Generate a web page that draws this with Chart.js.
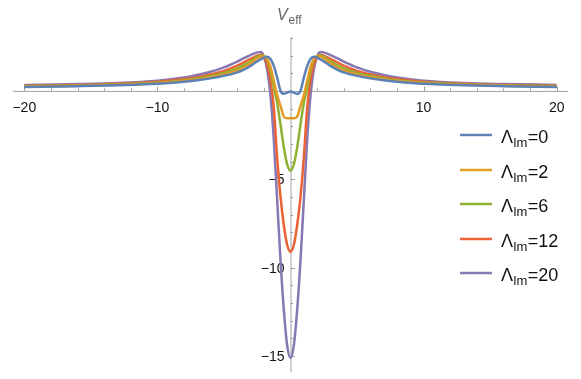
<!DOCTYPE html>
<html lang="en">
<head>
    <meta charset="UTF-8">
    <title>Veff</title>
    <style>
        body { margin: 0; background: #fff; }
        #wrap { width: 581px; height: 379px; }
    </style>
</head>
<body>
    <div id="wrap"><canvas id="myChart" width="581" height="379"></canvas></div>

    <script src="https://cdnjs.cloudflare.com/ajax/libs/Chart.js/4.4.1/chart.umd.min.js"></script>
    <script type="text/javascript">
        // x positions (symmetric about 0)
        const xs = [-20, -16, -13, -10, -8, -7, -6, -5, -4, -3.5, -3, -2.5, -2.25, -2, -1.75, -1.5, -1.25, -1, -0.75, -0.5, -0.25,
                    0, 0.25, 0.5, 0.75, 1, 1.25, 1.5, 1.75, 2, 2.25, 2.5, 3, 3.5, 4, 5, 6, 7, 8, 10, 13, 16, 20];

        // values, one array per curve
        const lam0 = [0.22, 0.27, 0.32, 0.40, 0.52, 0.60, 0.71, 0.85, 1.05, 1.21, 1.42, 1.67, 1.78, 1.88, 1.93, 1.80, 1.40, 0.75, 0.00, -0.16, -0.10,
                      -0.03, -0.10, -0.16, 0.00, 0.75, 1.40, 1.80, 1.93, 1.88, 1.78, 1.67, 1.42, 1.21, 1.05, 0.85, 0.71, 0.60, 0.52, 0.40, 0.32, 0.27, 0.22];
        const lam2 = [0.24, 0.29, 0.35, 0.44, 0.57, 0.65, 0.77, 0.93, 1.16, 1.34, 1.57, 1.85, 1.93, 1.95, 1.80, 1.35, 0.55, -0.25, -0.85, -1.45, -1.55,
                      -1.55, -1.55, -1.45, -0.85, -0.25, 0.55, 1.35, 1.80, 1.95, 1.93, 1.85, 1.57, 1.34, 1.16, 0.93, 0.77, 0.65, 0.57, 0.44, 0.35, 0.29, 0.24];
        const lam6 = [0.26, 0.31, 0.37, 0.47, 0.61, 0.71, 0.84, 1.02, 1.28, 1.46, 1.68, 1.92, 2.00, 1.98, 1.75, 1.15, 0.20, -0.70, -1.90, -3.20, -4.15,
                      -4.50, -4.15, -3.20, -1.90, -0.70, 0.20, 1.15, 1.75, 1.98, 2.00, 1.92, 1.68, 1.46, 1.28, 1.02, 0.84, 0.71, 0.61, 0.47, 0.37, 0.31, 0.26];
        const lam12 = [0.29, 0.33, 0.40, 0.52, 0.67, 0.78, 0.93, 1.13, 1.43, 1.62, 1.82, 2.00, 2.05, 1.95, 1.50, 0.60, -1.00, -3.80, -6.00, -7.60, -8.70,
                       -9.10, -8.70, -7.60, -6.00, -3.80, -1.00, 0.60, 1.50, 1.95, 2.05, 2.00, 1.82, 1.62, 1.43, 1.13, 0.93, 0.78, 0.67, 0.52, 0.40, 0.33, 0.29];
        const lam20 = [0.34, 0.39, 0.45, 0.58, 0.76, 0.90, 1.08, 1.33, 1.66, 1.85, 2.03, 2.18, 2.20, 1.95, 1.20, -0.30, -2.80, -6.20, -9.60, -12.40, -14.40,
                       -15.10, -14.40, -12.40, -9.60, -6.20, -2.80, -0.30, 1.20, 1.95, 2.20, 2.18, 2.03, 1.85, 1.66, 1.33, 1.08, 0.90, 0.76, 0.58, 0.45, 0.39, 0.34];

        const seriesNames = ['0', '2', '6', '12', '20'];
        const seriesColors = ['#5E81B5', '#E19C24', '#8FB032', '#EB6235', '#8778B3'];
        const allSeries = [lam0, lam2, lam6, lam12, lam20];

        // tick values
        const xLabelTicks = [-20, -10, 10, 20];
        const yLabelTicks = [-5, -10, -15];

        const FONT = '"Liberation Sans", Arial, sans-serif';

        // axes through the origin, Mathematica style
        const axesPlugin = {
            id: 'originAxes',
            beforeDatasetsDraw(chart) {
                const ctx = chart.ctx;
                const xs_ = chart.scales.x, ys_ = chart.scales.y;
                const x0 = xs_.getPixelForValue(0), y0 = ys_.getPixelForValue(0);
                const a = chart.chartArea;
                ctx.save();
                ctx.strokeStyle = '#a0a0a0';
                ctx.lineWidth = 1;
                ctx.beginPath();
                ctx.moveTo(a.left, y0 + 0.5); ctx.lineTo(a.right, y0 + 0.5);
                ctx.moveTo(x0 + 0.5, a.top); ctx.lineTo(x0 + 0.5, a.bottom);
                // x ticks (point up)
                for (let v = -20; v <= 20; v += 2) {
                    if (v === 0) continue;
                    const px = Math.round(xs_.getPixelForValue(v)) + 0.5;
                    const len = (v % 10 === 0) ? 4.5 : 2.5;
                    ctx.moveTo(px, y0); ctx.lineTo(px, y0 - len);
                }
                // y ticks (point right)
                for (let v = -15; v <= 3; v += 1) {
                    if (v === 0) continue;
                    const py = Math.round(ys_.getPixelForValue(v)) + 0.5;
                    const len = (v % 5 === 0) ? 4.5 : 2.5;
                    ctx.moveTo(x0, py); ctx.lineTo(x0 + len, py);
                }
                ctx.stroke();

                ctx.fillStyle = '#111';
                ctx.font = '14px ' + FONT;
                ctx.textAlign = 'center';
                ctx.textBaseline = 'alphabetic';
                xLabelTicks.forEach(v => {
                    const s = (v < 0 ? '\u2212' : '') + Math.abs(v);
                    ctx.fillText(s, xs_.getPixelForValue(v), y0 + 21);
                });
                ctx.textAlign = 'right';
                ctx.textBaseline = 'middle';
                yLabelTicks.forEach(v => {
                    ctx.fillText('\u2212' + Math.abs(v), x0 - 6, ys_.getPixelForValue(v) + 1);
                });

                // axis label V_eff
                ctx.fillStyle = '#666';
                ctx.textAlign = 'left';
                ctx.textBaseline = 'alphabetic';
                ctx.font = 'italic 16px ' + FONT;
                ctx.fillText('V', 277, 20);
                ctx.font = '12px ' + FONT;
                ctx.fillText('eff', 288.5, 24);
                ctx.restore();
            },
            afterDraw(chart) {
                // legend on the right
                const ctx = chart.ctx;
                ctx.save();
                const rows = [135, 170, 204, 239, 273];
                seriesNames.forEach((n, i) => {
                    const y = rows[i];
                    ctx.strokeStyle = seriesColors[i];
                    ctx.lineWidth = 2.5;
                    ctx.beginPath();
                    ctx.moveTo(460, y); ctx.lineTo(492, y);
                    ctx.stroke();
                    ctx.fillStyle = '#111';
                    ctx.textAlign = 'left';
                    ctx.textBaseline = 'alphabetic';
                    let x = 501;
                    ctx.font = '18px ' + FONT;
                    ctx.fillText('\u039B', x, y + 8);
                    x += ctx.measureText('\u039B').width + 0.5;
                    ctx.font = '13px ' + FONT;
                    ctx.fillText('lm', x, y + 12);
                    x += ctx.measureText('lm').width + 0.5;
                    ctx.font = '18px ' + FONT;
                    ctx.fillText('=' + n, x, y + 8);
                });
                ctx.restore();
            }
        };

        const ctx = document.getElementById('myChart');
        const myChart = new Chart(ctx, {
            type: 'line',
            data: {
                datasets: allSeries.map((vals, i) => ({
                    label: '\u039Blm=' + seriesNames[i],
                    data: xs.map((x, j) => ({ x: x, y: vals[j] })),
                    borderColor: seriesColors[i],
                    borderWidth: 2.5,
                    pointRadius: 0,
                    cubicInterpolationMode: 'monotone',
                    fill: false
                }))
            },
            options: {
                responsive: false,
                animation: false,
                layout: { padding: { left: 13, right: 13, top: 37, bottom: 7 } },
                plugins: { legend: { display: false }, tooltip: { enabled: false } },
                scales: {
                    x: { type: 'linear', min: -20.85, max: 20.85, display: false },
                    y: { type: 'linear', min: -15.9, max: 3.05, display: false }
                }
            },
            plugins: [axesPlugin]
        });
    </script>
</body>
</html>
